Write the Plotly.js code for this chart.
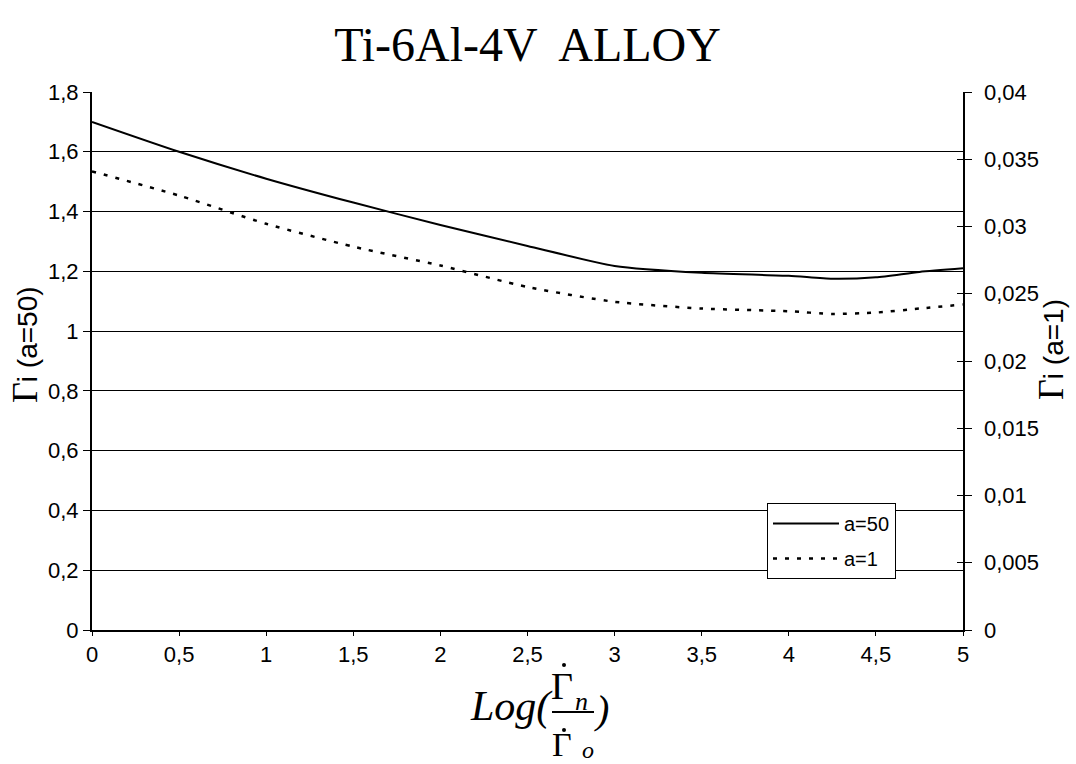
<!DOCTYPE html>
<html>
<head>
<meta charset="utf-8">
<script src="https://cdn.plot.ly/plotly-3.0.1.min.js"></script>
<style>
  html, body { margin: 0; padding: 0; background: #fff; }
  #chart { width: 1076px; height: 764px; }
</style>
</head>
<body>
<div id="chart"></div>
<script>
// ---- data ----
const logRate = [0, 0.5, 1, 1.5, 2, 2.5, 3, 3.5, 4, 4.25, 4.5, 4.75, 5];
const gammaA50 = [1.70, 1.60, 1.51, 1.43, 1.355, 1.285, 1.218, 1.195, 1.185, 1.175, 1.18, 1.198, 1.21];
const gammaA1 = [0.0341, 0.0323, 0.0302, 0.0285, 0.0271, 0.0255, 0.0244, 0.0239, 0.0237, 0.0235, 0.0236, 0.0239, 0.0242];
const seriesNames = ["a=50", "a=1"];
const chartTitle = "Ti-6Al-4V  ALLOY";

// ---- layout helpers (pixel -> paper) ----
const PL = 92, PR = 963, PT = 92, PB = 630;
const W = 1076, H = 764;
function ax(px) { return (px - PL) / (PR - PL); }
function ay(py) { return (PB - py) / (PB - PT); }

const sans = "Liberation Sans, Arial, sans-serif";
const serif = "Liberation Serif, Times New Roman, serif";

const traces = [
  {
    x: logRate, y: gammaA50, name: seriesNames[0], type: "scatter", mode: "lines",
    line: { color: "#000", width: 2, shape: "spline", smoothing: 0.6 },
    yaxis: "y", legendgroup: "g1"
  },
  {
    x: logRate, y: gammaA1, name: seriesNames[1], type: "scatter", mode: "lines",
    line: { color: "#000", width: 2.5, dash: "4px,8px", shape: "spline", smoothing: 0.6 },
    yaxis: "y2", legendgroup: "g2"
  },
  // empty helper trace so the inner tick marks of the right axis are drawn
  { x: [], y: [], type: "scatter", mode: "lines", yaxis: "y3", showlegend: false, hoverinfo: "skip" }
];

function ann(text, px, py, size, family, extra) {
  return Object.assign({
    text: text, xref: "paper", yref: "paper", x: ax(px), y: ay(py),
    xanchor: "center", yanchor: "middle", showarrow: false,
    font: { family: family, size: size, color: "#000" }
  }, extra || {});
}

const annotations = [
  ann('<span style="font-family:Liberation Serif;font-size:36px">Γ</span>i (a=50)', 25, 345, 28, sans, { textangle: -90 }),
  ann('<span style="font-family:Liberation Serif;font-size:36px">Γ</span>i (a=1)', 1051, 350, 28, sans, { textangle: -90 }),
  ann('<i>Log(</i>', 511, 706, 42, serif),
  ann('Γ', 562, 686, 38, serif),
  ann('<i>n</i>', 581, 701, 26, serif),
  ann('Γ', 562, 744, 34, serif),
  ann('<i>o</i>', 588, 750, 24, serif),
  ann('<i>)</i>', 601, 709, 40, serif)
];

function dot(px, py) {
  return { type: "circle", xref: "paper", yref: "paper",
    x0: ax(px - 2), x1: ax(px + 2), y0: ay(py + 2), y1: ay(py - 2),
    fillcolor: "#000", line: { width: 0 } };
}

const shapes = [
  { type: "line", xref: "paper", yref: "paper", x0: ax(552), x1: ax(594), y0: ay(712), y1: ay(712),
    line: { color: "#000", width: 2 } },
  dot(564, 665),
  dot(564, 730)
];

const tickFont = { family: sans, size: 22, color: "#000" };

const layout = {
  width: W, height: H,
  margin: { l: PL, r: W - PR, t: PT, b: H - PB, pad: 0 },
  paper_bgcolor: "#fff", plot_bgcolor: "#fff",
  separators: ",.",
  showlegend: true,
  title: {
    text: chartTitle, x: 0.5, xref: "paper", xanchor: "center",
    y: 1 - 44 / H, yref: "container", yanchor: "middle",
    font: { family: serif, size: 48, color: "#000" }
  },
  xaxis: {
    range: [0, 5], dtick: 0.5, tick0: 0, showgrid: false, zeroline: false,
    showline: true, linecolor: "#000", linewidth: 2,
    ticks: "outside", ticklen: 4, tickcolor: "#000", tickwidth: 1,
    tickfont: tickFont, automargin: false, fixedrange: true
  },
  yaxis: {
    range: [0, 1.8], dtick: 0.2, tick0: 0, showgrid: true, gridcolor: "#000", gridwidth: 1,
    zeroline: false, showline: true, linecolor: "#000", linewidth: 2,
    ticks: "outside", ticklen: 7, tickcolor: "#000", tickwidth: 1,
    tickfont: tickFont, automargin: false, fixedrange: true
  },
  yaxis2: {
    range: [0, 0.04], dtick: 0.005, tick0: 0, overlaying: "y", side: "right",
    showgrid: false, zeroline: false, showline: true, linecolor: "#000", linewidth: 1.5,
    ticks: "outside", ticklen: 7, tickcolor: "#000", tickwidth: 1,
    ticklabelstandoff: 8,
    tickfont: tickFont, automargin: false, fixedrange: true
  },
  yaxis3: {
    range: [0, 0.04], dtick: 0.005, tick0: 0, overlaying: "y", side: "right",
    showgrid: false, zeroline: false, showline: false, showticklabels: false,
    ticks: "inside", ticklen: 6, tickcolor: "#000", tickwidth: 1,
    automargin: false, fixedrange: true
  },
  legend: {
    x: ax(767), y: ay(503), xanchor: "left", yanchor: "top",
    bgcolor: "#fff", bordercolor: "#000", borderwidth: 1,
    font: { family: sans, size: 20, color: "#000" },
    itemwidth: 66, tracegroupgap: 6, traceorder: "grouped"
  },
  annotations: annotations,
  shapes: shapes
};

Plotly.newPlot("chart", traces, layout, { staticPlot: true, displayModeBar: false });
</script>
</body>
</html>
